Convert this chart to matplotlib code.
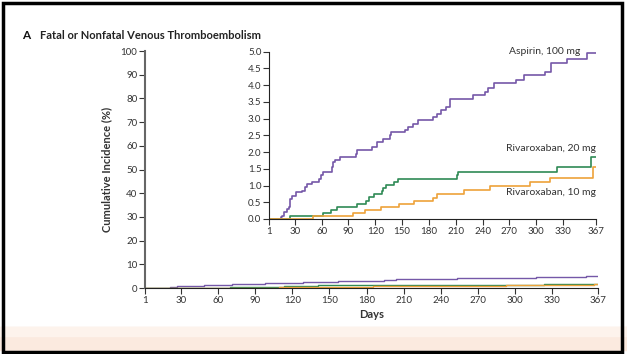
import numpy as np
import matplotlib.pyplot as plt
from matplotlib.patches import Rectangle

plt.rcParams['font.family'] = ['Lato', 'DejaVu Sans']

# step data (days, cumulative incidence %)
asp_days = [1, 14, 16, 18, 21, 23, 25, 27, 31, 38, 41, 44, 49, 57, 59, 62, 71, 73, 75, 81,
            98, 100, 116, 122, 129, 137, 138, 153, 157, 162, 168, 185, 189, 194, 199, 204,
            229, 243, 246, 253, 278, 286, 310, 317, 335, 357, 367]
asp_vals = [0, 0.05, 0.1, 0.2, 0.3, 0.35, 0.6, 0.7, 0.8, 0.85, 0.95, 1.05, 1.1, 1.2, 1.3, 1.4,
            1.55, 1.7, 1.75, 1.85, 1.95, 2.05, 2.15, 2.3, 2.4, 2.5, 2.6, 2.65, 2.75, 2.85, 2.95,
            3.05, 3.15, 3.25, 3.35, 3.6, 3.7, 3.8, 3.9, 4.05, 4.15, 4.3, 4.4, 4.65, 4.78, 4.97, 4.97]

r20_days = [1, 25, 62, 70, 77, 100, 110, 113, 118, 128, 129, 132, 141, 145, 211, 213, 323, 362, 367]
r20_vals = [0, 0.1, 0.18, 0.28, 0.36, 0.46, 0.55, 0.65, 0.74, 0.85, 0.92, 1.01, 1.1, 1.19,
            1.3, 1.4, 1.55, 1.85, 1.85]

r10_days = [1, 50, 95, 109, 126, 146, 163, 185, 189, 219, 248, 293, 316, 364, 367]
r10_vals = [0, 0.08, 0.18, 0.28, 0.37, 0.46, 0.55, 0.64, 0.74, 0.87, 0.98, 1.1, 1.22, 1.55, 1.55]

xticks = [1, 30, 60, 90, 120, 150, 180, 210, 240, 270, 300, 330, 367]

c_asp = '#7558a8'
c_r20 = '#2f8a55'
c_r10 = '#eea23a'
txt = '#333333'

fig = plt.figure(figsize=(6.27, 3.54), dpi=100)
fig.patch.set_facecolor('white')

# peach band at the bottom and black frame
fig.add_artist(Rectangle((0, 0.01), 1, 0.065, transform=fig.transFigure,
                         color='#fbeadf', zorder=0))
fig.add_artist(Rectangle((0, 0.05), 1, 0.025, transform=fig.transFigure,
                         color='#fdf3ec', zorder=0))
fig.add_artist(Rectangle((0.004, 0.006), 0.988, 0.985, transform=fig.transFigure,
                         fill=False, ec='black', lw=2.5, zorder=5))

# main axes
ax = fig.add_axes([0.2313, 0.1864, 0.7225, 0.6695])
ax.step(asp_days, asp_vals, where='post', color=c_asp, lw=1.0)
ax.step(r20_days, r20_vals, where='post', color=c_r20, lw=1.0)
ax.step(r10_days, r10_vals, where='post', color=c_r10, lw=1.0)
ax.set_xlim(1, 367)
ax.set_ylim(0, 100)
ax.set_xticks(xticks)
ax.set_yticks(range(0, 101, 10))
ax.spines['top'].set_visible(False)
ax.spines['right'].set_visible(False)
ax.spines['left'].set_color('#666666')
ax.spines['left'].set_linewidth(1.5)
ax.spines['bottom'].set_color('#222222')
ax.tick_params(labelsize=7, colors=txt, length=4, width=0.8, pad=1.5)
ax.set_xlabel('Days', fontsize=8, fontweight='bold', color=txt, labelpad=3)
ax.set_ylabel('Cumulative Incidence (%)', fontsize=8, fontweight='bold', color=txt, labelpad=6)

# inset
ins = fig.add_axes([0.429, 0.3814, 0.5215, 0.4726])
ins.step(asp_days, asp_vals, where='post', color=c_asp, lw=1.2)
ins.step(r20_days, r20_vals, where='post', color=c_r20, lw=1.2)
ins.step(r10_days, r10_vals, where='post', color=c_r10, lw=1.2)
ins.set_xlim(1, 367)
ins.set_ylim(0, 5)
ins.set_xticks(xticks)
ins.set_yticks(np.arange(0, 5.01, 0.5))
ins.set_yticklabels(['%.1f' % v for v in np.arange(0, 5.01, 0.5)])
ins.spines['top'].set_visible(False)
ins.spines['right'].set_visible(False)
ins.spines['left'].set_color('#222222')
ins.spines['bottom'].set_color('#222222')
ins.tick_params(labelsize=7, colors=txt, length=4, width=0.8, pad=1.5)
ins.text(349, 5.0, 'Aspirin, 100 mg', fontsize=7.5, color=txt, ha='right', va='center')
ins.text(367, 2.12, 'Rivaroxaban, 20 mg', fontsize=7.5, color=txt, ha='right', va='center')
ins.text(367, 0.78, 'Rivaroxaban, 10 mg', fontsize=7.5, color=txt, ha='right', va='center')

fig.text(0.035, 0.9, 'A', fontsize=8.5, fontweight='bold', color='#111111', va='center')
fig.text(0.063, 0.9, 'Fatal or Nonfatal Venous Thromboembolism', fontsize=8,
         fontweight='bold', color='#222222', va='center')

fig.savefig('out.png', dpi=100)
